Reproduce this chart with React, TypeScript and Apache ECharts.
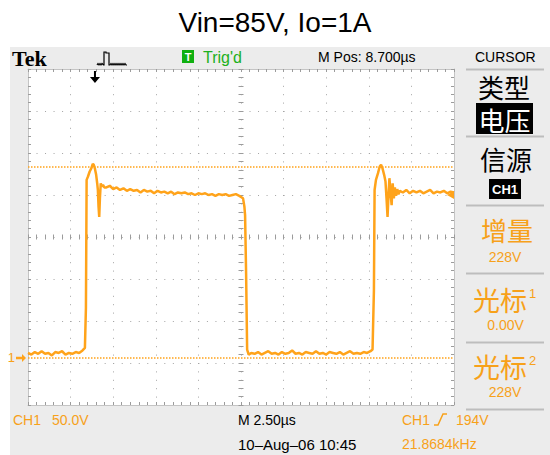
import React, { useEffect, useRef } from "react";
import * as echarts from "echarts";

// ---- waveform values (time in µs, voltage in V) ----
const lowBefore: [number, number][] = [
  [0, 6], [0.2, 4], [0.4, 7], [0.6, 5], [0.8, 8], [1.0, 5], [1.2, 6], [1.4, 3], [1.6, 7],
  [1.8, 6], [2.0, 8], [2.2, 4], [2.4, 6], [2.6, 5], [2.8, 7], [3.0, 6], [3.2, 9], [3.34, 12],
];
const firstEdge: [number, number][] = [
  [3.4, 60], [3.44, 212], [3.52, 216], [3.62, 222], [3.72, 226], [3.8, 231], [3.86, 230],
  [3.93, 225], [4.0, 218], [4.06, 208], [4.1, 200], [4.14, 180], [4.18, 168], [4.22, 190],
  [4.27, 208], [4.33, 204], [4.4, 206], [4.48, 203],
];
const highPlateau: [number, number][] = [
  [4.6, 203], [4.8, 205], [5.0, 201], [5.2, 203], [5.4, 200], [5.6, 202], [5.8, 199], [6.0, 201],
  [6.2, 199], [6.4, 200], [6.6, 197], [6.8, 200], [7.0, 198], [7.2, 199], [7.4, 196], [7.6, 199],
  [7.8, 197], [8.0, 198], [8.2, 196], [8.4, 198], [8.6, 195], [8.8, 197], [9.0, 196], [9.2, 197],
  [9.4, 195], [9.6, 196], [9.8, 194], [10.0, 196], [10.2, 195], [10.4, 196], [10.6, 194], [10.8, 195],
  [11.0, 193], [11.2, 195], [11.4, 194], [11.6, 195], [11.8, 193], [12.0, 194], [12.2, 195],
  [12.4, 193], [12.55, 191],
];
const fallingEdge: [number, number][] = [
  [12.62, 190], [12.7, 180], [12.74, 170], [12.8, 100], [12.86, 10],
];
const lowBetween: [number, number][] = [
  [12.95, 4], [13.1, 6], [13.3, 5], [13.5, 7], [13.7, 4], [13.9, 6], [14.1, 8], [14.3, 5],
  [14.5, 6], [14.7, 4], [14.9, 7], [15.1, 5], [15.3, 6], [15.5, 9], [15.7, 5], [15.9, 6],
  [16.1, 4], [16.3, 7], [16.5, 6], [16.7, 5], [16.9, 8], [17.1, 5], [17.3, 6], [17.5, 4],
  [17.7, 7], [17.9, 6], [18.1, 5], [18.3, 7], [18.5, 4], [18.7, 6], [18.9, 8], [19.1, 5],
  [19.3, 6], [19.5, 5], [19.7, 7], [19.9, 6], [20.1, 8], [20.22, 10],
];
const secondEdge: [number, number][] = [
  [20.3, 80], [20.34, 200], [20.42, 212], [20.54, 220], [20.64, 228], [20.72, 230], [20.8, 226],
  [20.9, 218], [20.98, 210], [21.04, 190], [21.1, 168], [21.16, 195], [21.21, 214], [21.28, 196],
  [21.34, 182], [21.4, 208], [21.47, 190], [21.53, 203], [21.6, 193], [21.67, 201], [21.74, 195],
  [21.82, 199],
];
const highAfter: [number, number][] = [
  [22.0, 197], [22.2, 200], [22.4, 196], [22.6, 199], [22.8, 197], [23.0, 199], [23.2, 196],
  [23.4, 198], [23.6, 200], [23.8, 196], [24.0, 198], [24.2, 197], [24.4, 199], [24.6, 196],
  [24.8, 198], [25.0, 197],
];

const timeRangeUs = [0, 25];
const voltRangeV = [-56, 344];
const cursorLevelsV = [0, 228];
const triggerLevelV = 194;
const triggerTimeUs = 3.93;

const ORANGE = "#FFA31A";
const TXT_OR = "#F7A11A";
const FONT = '"Liberation Sans", Arial, sans-serif';
const CJK = '"Noto Sans CJK SC", sans-serif';
const TICK = "#9c9c9c";
const BORDER = "#c4c4c4";
const DOT = "#a4a4a4";

function txt(text: string, x: number, y: number, o: any = {}) {
  const align = o.align || "left";
  return {
    type: "text",
    x,
    y,
    z: 10,
    silent: true,
    style: {
      text,
      fill: o.fill || "#000",
      font: `${o.weight || "normal"} ${o.size || 14}px ${o.family || FONT}`,
      lineHeight: o.lh || undefined,
      align,
      textAlign: align,
      verticalAlign: "middle",
      textVerticalAlign: "middle",
    },
  };
}

function gratAxis(dim: "x" | "y", position: string, o: any) {
  const isX = dim === "x";
  return {
    type: "value",
    gridIndex: 1,
    position,
    offset: o.offset || 0,
    min: isX ? -5 : -4,
    max: isX ? 5 : 4,
    interval: 1,
    axisLabel: { show: false },
    axisLine: { show: !!o.line, onZero: false, lineStyle: { color: BORDER, width: 1 } },
    axisTick: { show: true, inside: o.inside, length: o.len, lineStyle: { color: TICK, width: 1 } },
    minorTick: { show: true, splitNumber: 5, length: o.len, lineStyle: { color: TICK, width: 1 } },
    minorSplitLine: { show: false },
    splitLine: {
      show: !!o.split,
      lineStyle: { color: DOT, width: 1, type: isX ? [1, 7.4] : [1, 7.52] },
    },
  };
}

export default function App() {
  const ref = useRef<HTMLDivElement>(null);
  useEffect(() => {
    const chart = echarts.init(ref.current!, undefined, { renderer: "svg" });
    const trace = [
      ...lowBefore, ...firstEdge, ...highPlateau, ...fallingEdge,
      ...lowBetween, ...secondEdge, ...highAfter,
    ];
    const rect = { left: 28, top: 69, width: 426, height: 336 };
    const option: any = {
      animation: false,
      backgroundColor: "#ffffff",
      grid: [
        { ...rect, show: false, containLabel: false, outerBoundsMode: "none" },
        { ...rect, show: false, containLabel: false, outerBoundsMode: "none" },
      ],
      xAxis: [
        { type: "value", gridIndex: 0, min: timeRangeUs[0], max: timeRangeUs[1], show: false },
        gratAxis("x", "bottom", { line: true, inside: true, len: 3, split: true }),
        gratAxis("x", "top", { line: true, inside: true, len: 3 }),
        gratAxis("x", "bottom", { offset: -168, inside: true, len: 2.5 }),
        gratAxis("x", "bottom", { offset: -168, inside: false, len: 2.5 }),
      ],
      yAxis: [
        { type: "value", gridIndex: 0, min: voltRangeV[0], max: voltRangeV[1], show: false },
        gratAxis("y", "left", { line: true, inside: true, len: 3, split: true }),
        gratAxis("y", "right", { line: true, inside: true, len: 3 }),
        gratAxis("y", "left", { offset: -213, inside: true, len: 2.5 }),
        gratAxis("y", "left", { offset: -213, inside: false, len: 2.5 }),
      ],
      series: [
        { type: "line", xAxisIndex: 1, yAxisIndex: 1, data: [], silent: true },
        {
          type: "line",
          xAxisIndex: 0,
          yAxisIndex: 0,
          data: trace,
          showSymbol: false,
          symbol: "none",
          clip: false,
          silent: true,
          z: 5,
          lineStyle: { color: ORANGE, width: 2.5 },
          emphasis: { disabled: true },
          markLine: {
            silent: true,
            symbol: ["none", "none"],
            label: { show: false },
            lineStyle: { color: ORANGE, type: [1.5, 1.5], width: 1.5 },
            emphasis: { disabled: true },
            data: cursorLevelsV.map((v) => ({ yAxis: v })),
          },
          markPoint: {
            silent: true,
            label: { show: false },
            emphasis: { disabled: true },
            data: [
              {
                name: "gnd",
                coord: [timeRangeUs[0], 0],
                symbol: "path://M0,3L6,3L6,0L10,4.5L6,9L6,6L0,6Z",
                symbolSize: [10, 8],
                symbolOffset: [-7, 0],
                itemStyle: { color: ORANGE },
                label: {
                  show: true, formatter: "1", position: "left", distance: 1,
                  color: TXT_OR, fontSize: 13, fontFamily: FONT,
                },
              },
              {
                name: "trig",
                coord: [timeRangeUs[1], triggerLevelV],
                symbol: "path://M10,0L0,5L10,10Z",
                symbolSize: [7, 8],
                symbolOffset: [-3.5, 0],
                itemStyle: { color: ORANGE },
              },
              {
                name: "tpos",
                coord: [triggerTimeUs, voltRangeV[1]],
                symbol: "path://M4,0L6,0L6,6L10,6L5,12L0,6L4,6Z",
                symbolSize: [10, 12],
                symbolOffset: [0, 8],
                itemStyle: { color: "#000" },
              },
            ],
          },
        },
      ],
      graphic: [
        { type: "rect", z: -10, silent: true, shape: { x: 10, y: 47, width: 540, height: 408 }, style: { fill: "#ececec" } },
        { type: "rect", z: -9, silent: true, shape: { x: 28, y: 69, width: 426, height: 336 }, style: { fill: "#ffffff" } },
        txt("Vin=85V, Io=1A", 275, 22, { size: 28, align: "center" }),
        txt("Tek", 12, 58, { size: 22, weight: "bold", family: '"Liberation Serif", "Times New Roman", serif' }),
        {
          type: "polyline", z: 10, silent: true,
          shape: {
            points: [
              [97, 65], [98, 63.5], [99, 65], [100, 63.5], [101, 65], [102, 63.5], [103.5, 65],
              [104, 65], [104, 52], [106, 52], [106, 53], [109, 53], [109, 65], [110, 65],
              [111, 63.5], [112, 65], [113, 63.5], [114, 65], [115, 63.5], [116, 65], [117, 63.5],
              [118, 65], [119, 63.5], [120, 65], [121, 63.5], [122, 65], [123, 63.5], [124, 65],
              [125, 63.5], [126, 65], [127, 65],
            ],
          },
          style: { stroke: "#000", lineWidth: 1.2, fill: null },
        },
        { type: "rect", z: 10, silent: true, shape: { x: 182, y: 50, width: 12, height: 13 }, style: { fill: "#10b010" } },
        txt("T", 188, 56.5, { size: 11, weight: "bold", fill: "#fff", align: "center" }),
        txt("Trig'd", 203, 57, { size: 16, fill: "#20b020" }),
        txt("M Pos: 8.700µs", 318, 57, { size: 14 }),
        txt("CURSOR", 475, 57, { size: 14 }),
        ...[69.5, 136.5, 205.5, 273.5, 342.5, 409.5].map((y) => ({
          type: "line", z: 10, silent: true,
          shape: { x1: 466, y1: y, x2: 544, y2: y },
          style: { stroke: "#bdbdbd", lineWidth: 2 },
        })),
        txt("类型", 504, 86, { size: 26, family: CJK, align: "center", lh: 28 }),
        { type: "rect", z: 10, silent: true, shape: { x: 476, y: 103, width: 57, height: 31 }, style: { fill: "#000" } },
        txt("电压", 504.5, 119, { size: 26, family: CJK, fill: "#fff", align: "center", lh: 28 }),
        txt("信源", 506, 158.5, { size: 26, family: CJK, align: "center", lh: 28 }),
        { type: "rect", z: 10, silent: true, shape: { x: 489, y: 179, width: 32, height: 20 }, style: { fill: "#000" } },
        txt("CH1", 505, 189, { size: 13, weight: "bold", fill: "#fff", align: "center" }),
        txt("增量", 507, 229, { size: 26, family: CJK, fill: TXT_OR, align: "center", lh: 28 }),
        txt("228V", 505, 257, { size: 14, fill: TXT_OR, align: "center" }),
        txt("光标", 500, 299.5, { size: 27, family: CJK, fill: TXT_OR, align: "center", lh: 28 }),
        txt("1", 529, 293, { size: 13, fill: TXT_OR }),
        txt("0.00V", 505.5, 325, { size: 14, fill: TXT_OR, align: "center" }),
        txt("光标", 500, 366.5, { size: 27, family: CJK, fill: TXT_OR, align: "center", lh: 28 }),
        txt("2", 529, 360, { size: 13, fill: TXT_OR }),
        txt("228V", 505, 391.5, { size: 14, fill: TXT_OR, align: "center" }),
        txt("CH1", 13, 419.5, { size: 14, fill: TXT_OR }),
        txt("50.0V", 52, 419.5, { size: 14, fill: TXT_OR }),
        txt("M 2.50µs", 238, 419.5, { size: 14 }),
        txt("10–Aug–06 10:45", 238, 444, { size: 15 }),
        txt("CH1", 402, 419.5, { size: 14, fill: TXT_OR }),
        {
          type: "polyline", z: 10, silent: true,
          shape: { points: [[434, 425], [438, 425], [443, 414], [447, 414]] },
          style: { stroke: TXT_OR, lineWidth: 1.5, fill: null },
        },
        txt("194V", 456, 419.5, { size: 14, fill: TXT_OR }),
        txt("21.8684kHz", 402, 444, { size: 14, fill: TXT_OR }),
      ],
    };
    chart.setOption(option);
    return () => chart.dispose();
  }, []);
  return (
    <div
      ref={ref}
      style={{ position: "fixed", left: 0, top: 0, width: 550, height: 455 }}
    />
  );
}
